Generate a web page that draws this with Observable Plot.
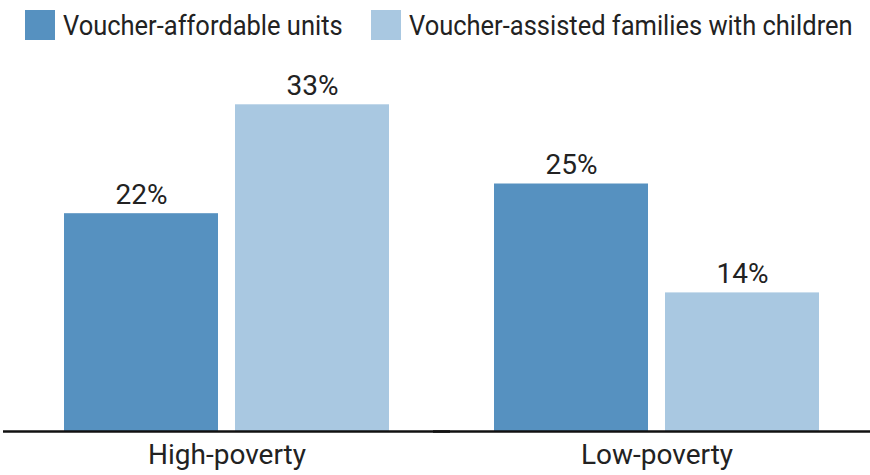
<!DOCTYPE html>
<html>
<head>
<meta charset="utf-8">
<script src="https://cdn.jsdelivr.net/npm/d3@7"></script>
<script src="https://cdn.jsdelivr.net/npm/@observablehq/plot@0.6"></script>
<style>
  body { margin: 0; background: #fff; }
  #legend { height: 50px; position: relative; font-family: Roboto, sans-serif; font-size: 28px; color: #222; }
  .item { position: absolute; top: 10px; display: flex; align-items: center; height: 30px; white-space: nowrap; }
  .sw { width: 30px; height: 30px; margin-right: 8px; flex: none; }
  .lab { display: inline-block; transform: scaleX(0.91); transform-origin: left center; }
</style>
</head>
<body>
<div id="legend"></div>
<div id="chart"></div>
<script>
const categories = ["High-poverty", "Low-poverty"];
const series = ["Voucher-affordable units", "Voucher-assisted families with children"];
const unitsValues = [22, 25];
const familiesValues = [33, 14];
const colors = ["#5691c0", "#a9c8e1"];

const data = [];
categories.forEach((c, i) => {
  data.push({category: c, series: series[0], value: unitsValues[i]});
  data.push({category: c, series: series[1], value: familiesValues[i]});
});

const legend = document.getElementById("legend");
const lefts = [25, 371];
series.forEach((s, i) => {
  const it = document.createElement("div");
  it.className = "item";
  it.style.left = lefts[i] + "px";
  it.innerHTML = `<div class="sw" style="background:${colors[i]}"></div><span class="lab">${s}</span>`;
  legend.appendChild(it);
});

const chart = Plot.plot({
  width: 870,
  height: 425,
  marginLeft: 7,
  marginRight: 0,
  marginTop: 34.5,
  marginBottom: 44,
  style: {fontFamily: "Roboto, sans-serif", color: "#222", background: "#fff"},
  fx: {domain: categories, paddingInner: 0.2395, paddingOuter: 0.123, align: 0.528, label: null},
  x: {domain: series, paddingInner: 0.0988, paddingOuter: 0, axis: null},
  y: {domain: [0, 35], axis: null},
  color: {domain: series, range: colors},
  marks: [
    Plot.barY(data, {fx: "category", x: "series", y: "value", fill: "series"}),
    Plot.text(data, {fx: "category", x: "series", y: "value", text: d => d.value + "%", dy: -19, fontSize: 28, fill: "#222"}),
    Plot.ruleY([0], {stroke: "#111", strokeWidth: 2.5, insetLeft: -60, insetRight: -60}),
    Plot.axisFx({anchor: "bottom", tickSize: 0, tickPadding: 13, fontSize: 28, label: null})
  ]
});
document.getElementById("chart").appendChild(chart);
</script>
</body>
</html>
